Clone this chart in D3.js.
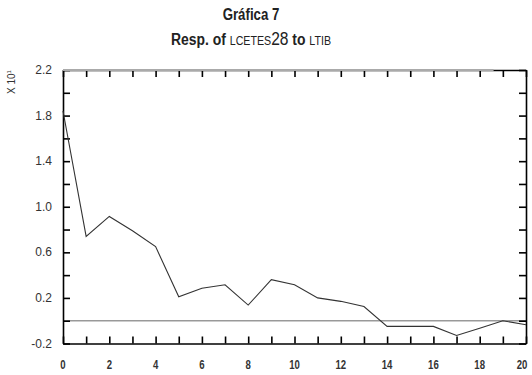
<!DOCTYPE html>
<html>
<head>
<meta charset="utf-8">
<script src="https://cdn.jsdelivr.net/npm/d3@7"></script>
<style>
  body { margin: 0; background: #fff; }
  svg { display: block; }
</style>
</head>
<body>
<svg id="chart" width="532" height="375"></svg>
<script>
// response horizon (steps) and the impulse response, in units of 10^1
var steps = [0, 1, 2, 3, 4, 5, 6, 7, 8, 9, 10, 11, 12, 13, 14, 15, 16, 17, 18, 19, 20];
var response = [1.84, 0.74, 0.915, 0.79, 0.65, 0.21, 0.285, 0.315, 0.137, 0.36, 0.315,
                0.20, 0.17, 0.125, -0.05, -0.05, -0.05, -0.13, -0.066, 0.0, -0.035];
var yTickValues = [-0.2, 0.2, 0.6, 1.0, 1.4, 1.8, 2.2];
var xTickValues = [0, 2, 4, 6, 8, 10, 12, 14, 16, 18, 20];

(function() {
  var svg = d3.select('#chart');
  var sans = 'Liberation Sans, Arial, sans-serif';

  // plot frame
  var mLeft = 63, mRight = 526, mTop = 70, mBottom = 343.5;

  var x = d3.scaleLinear().domain([0, 20]).range([mLeft, mRight]);
  var y = d3.scaleLinear().domain([-0.2, 2.2]).range([mBottom, mTop]);

  // title, squeezed horizontally to look like a narrow face
  svg.append('text')
    .attr('transform', 'translate(251,20) scale(0.78,1)')
    .attr('text-anchor', 'middle')
    .attr('font-family', sans)
    .attr('font-size', 17).attr('font-weight', 'bold')
    .attr('fill', '#222')
    .text('Gráfica 7');

  var sub = svg.append('text')
    .attr('transform', 'translate(251,45) scale(0.82,1)')
    .attr('text-anchor', 'middle')
    .attr('font-family', sans)
    .attr('font-size', 17).attr('font-weight', 'bold')
    .attr('fill', '#222');
  sub.append('tspan').text('Resp. of ');
  sub.append('tspan').attr('font-size', 13).attr('font-weight', 'normal').text('LCETES');
  sub.append('tspan').attr('font-weight', 'normal').attr('font-size', 19).text('28');
  sub.append('tspan').text(' to ');
  sub.append('tspan').attr('font-size', 13).attr('font-weight', 'normal').text('LTIB');

  // scale note
  var note = svg.append('text')
    .attr('transform', 'translate(15,82) rotate(-90)')
    .attr('text-anchor', 'middle')
    .attr('font-family', sans)
    .attr('font-size', 10)
    .attr('fill', '#333');
  note.append('tspan').text('X 10');
  note.append('tspan').attr('font-size', 6).attr('dy', -4).text('1');

  // zero line
  svg.append('line')
    .attr('x1', mLeft).attr('x2', mRight)
    .attr('y1', y(0)).attr('y2', y(0))
    .attr('stroke', '#999').attr('stroke-width', 1.4);

  // axes: ticks every unit on x, every 0.2 on y, drawn inward on all four sides
  var xMinor = d3.range(0, 21, 1);
  var yMinor = d3.range(-0.2, 2.21, 0.2);

  var gBottom = svg.append('g')
    .attr('transform', 'translate(0,' + mBottom + ')')
    .call(d3.axisTop(x).tickValues(xMinor).tickSize(7).tickSizeOuter(0).tickFormat(''));
  var gTop = svg.append('g')
    .attr('transform', 'translate(0,' + mTop + ')')
    .call(d3.axisBottom(x).tickValues(xMinor).tickSize(7).tickSizeOuter(0).tickFormat(''));
  var gLeft = svg.append('g')
    .attr('transform', 'translate(' + mLeft + ',0)')
    .call(d3.axisRight(y).tickValues(yMinor).tickSize(7).tickSizeOuter(0).tickFormat(''));
  var gRight = svg.append('g')
    .attr('transform', 'translate(' + mRight + ',0)')
    .call(d3.axisLeft(y).tickValues(yMinor).tickSize(7).tickSizeOuter(0).tickFormat(''));

  [gBottom, gTop, gLeft, gRight].forEach(function(g) {
    g.select('.domain').attr('stroke', '#000').attr('stroke-width', 1.6);
    g.selectAll('.tick line').attr('stroke', '#000').attr('stroke-width', 1.6);
  });

  // grey stretch along the top edge
  svg.append('line')
    .attr('x1', mLeft).attr('x2', x(18.6))
    .attr('y1', mTop).attr('y2', mTop)
    .attr('stroke', '#aaa').attr('stroke-width', 2);

  // tick labels
  svg.append('g').selectAll('text')
    .data(yTickValues)
    .enter().append('text')
    .attr('x', 52)
    .attr('y', function(d) { return y(d) + 4; })
    .attr('text-anchor', 'end')
    .attr('font-family', sans)
    .attr('font-size', 12)
    .attr('fill', '#333')
    .text(function(d) { return d3.format('.1f')(d).replace('\u2212', '-'); });

  svg.append('g').selectAll('text')
    .data(xTickValues)
    .enter().append('text')
    .attr('transform', function(d) {
      return 'translate(' + (d === 20 ? x(d) - 4 : x(d)) + ',369) scale(0.8,1)';
    })
    .attr('text-anchor', 'middle')
    .attr('font-family', sans)
    .attr('font-size', 12)
    .attr('font-weight', 'bold')
    .attr('fill', '#333')
    .text(function(d) { return d; });

  // response line
  var line = d3.line()
    .x(function(d, i) { return x(steps[i]); })
    .y(function(d) { return y(d); });

  svg.append('path')
    .datum(response)
    .attr('d', line)
    .attr('fill', 'none')
    .attr('stroke', '#333')
    .attr('stroke-width', 1.1);
})();
</script>
</body>
</html>
